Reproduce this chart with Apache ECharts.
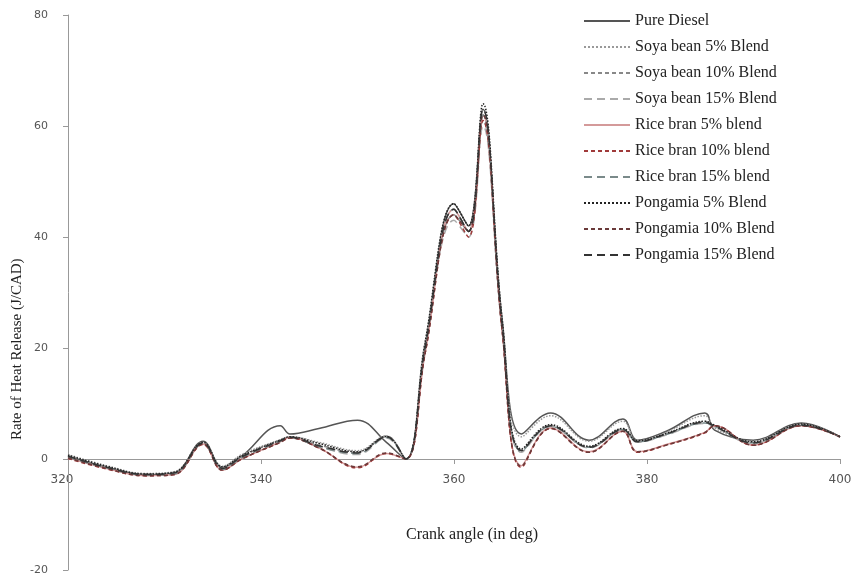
<!DOCTYPE html>
<html>
<head>
<meta charset="utf-8">
<script src="https://cdn.jsdelivr.net/npm/echarts@6/dist/echarts.min.js"></script>
<style>html,body{margin:0;background:#fff}#c{width:856px;height:579px}</style>
</head>
<body>
<div id="c"></div>
<script>
// crank angle sample points
var crank = [320,324,328,331,334,336,338,342,343,346,350,353,355,357,360,361.5,363,365,367,370,374,377.5,379,382,386,387,391,396,400];

var pureDiesel = [0.5,-1.5,-2.8,-2.5,3.2,-1.5,0.5,6,4.5,5.5,7,3,0,20,46,42,63,25,4.5,8.3,3.4,7.2,3.4,5,8.3,5.2,3.4,6.5,4];
var soya5  = [0.8,-1.2,-2.6,-2.3,3,-1.3,0.8,3.5,4,3,1.5,4.2,0,21,45,41,62,24,4,7.8,3.2,6.8,3.3,4.8,7.8,5.6,3.2,6.3,4];
var soya10 = [0.6,-1.4,-2.7,-2.4,2.9,-1.6,0.5,3.4,3.9,2.5,1.2,4,0,20,44,41,61,23,1.6,6,2.2,5.4,3.2,4.5,6.7,6,3,6.2,4];
var soya15 = [0.4,-1.6,-2.9,-2.6,2.8,-1.8,0.3,3.2,3.8,2.2,0.8,3.8,0,20,43,40,60,23,1.2,5.8,2,5.2,3,4.3,6.4,5.8,2.8,6,4];
var rice5  = [0.2,-1.7,-3,-2.8,2.7,-2,0,3.1,3.9,2,-1.5,1,0,19,45,41,62,23,-1.2,5.6,1.3,5,1.3,2.6,4.8,6,2.5,6,4];
var rice10 = [0.1,-1.8,-3,-2.8,2.6,-2,0,3,3.8,2,-1.6,1,0,19,44,40,61,23,-1.5,5.5,1.2,5,1.2,2.5,4.7,6,2.5,6,4];
var rice15 = [0.3,-1.6,-2.9,-2.7,2.8,-1.9,0.2,3.2,3.9,2.2,1,3.9,0,20,45,41,62,24,1.4,5.9,2.1,5.3,3.1,4.4,6.5,5.9,2.9,6.1,4];
var pong5  = [0.7,-1.3,-2.7,-2.4,3,-1.4,0.6,3.4,4,2.8,1.3,4.1,0,21,46,42,64,25,1.8,6.2,2.3,5.5,3.3,4.6,6.8,6.1,3.1,6.3,4];
var pong10 = [0.2,-1.7,-3,-2.8,2.7,-2,0,3,3.8,2,-1.4,1.1,0,19,44,41,62,23,-1.3,5.5,1.2,5,1.3,2.5,4.8,6,2.5,6,4];
var pong15 = [0.5,-1.5,-2.8,-2.5,2.9,-1.7,0.4,3.3,3.9,2.4,1.1,4,0,20,45,41,63,24,1.5,6,2.1,5.3,3.1,4.5,6.6,5.9,2.9,6.1,4];

var xTicks = [320,340,360,380,400];
var yTicks = [-20,0,20,40,60,80];

var names = ['Pure Diesel','Soya bean 5% Blend','Soya bean 10% Blend','Soya bean 15% Blend',
  'Rice bran 5% blend','Rice bran 10% blend','Rice bran 15% blend',
  'Pongamia 5% Blend','Pongamia 10% Blend','Pongamia 15% Blend'];
var values = [pureDiesel,soya5,soya10,soya15,rice5,rice10,rice15,pong5,pong10,pong15];
var colors = ['#555555','#999999','#888888','#aaaaaa','#d49a9a','#a03a3a','#7a8a8a','#222222','#6a3a3a','#333333'];
var types = ['solid','dotted',[4,3],[8,5],'solid',[4,3],[8,5],'dotted',[4,3],[8,5]];

var series = names.map(function (n, i) {
  return {
    name: n, type: 'line', smooth: 0.4, symbol: 'none',
    data: crank.map(function (x, j) { return [x, values[i][j]]; }),
    lineStyle: { color: colors[i], width: 1.5, type: types[i] },
    itemStyle: { color: colors[i] }
  };
});

var chart = echarts.init(document.getElementById('c'));
chart.setOption({
  animation: false,
  textStyle: { fontFamily: 'Liberation Serif' },
  grid: { left: 68, right: 16, top: 15, bottom: 9 },
  legend: {
    data: names, orient: 'vertical', left: 578, top: 8,
    itemWidth: 46, itemHeight: 10, itemGap: 10,
    itemStyle: { opacity: 0 },
    textStyle: { fontFamily: 'Liberation Serif', fontSize: 16, color: '#222' }
  },
  xAxis: {
    type: 'value', min: 320, max: 400, interval: 20,
    axisLine: { onZero: true, lineStyle: { color: '#999' } },
    axisTick: { show: true, length: 5, lineStyle: { color: '#999' } },
    axisLabel: { show: false },
    splitLine: { show: false }
  },
  yAxis: {
    type: 'value', min: -20, max: 80, interval: 20,
    axisLine: { show: true, lineStyle: { color: '#999' } },
    axisTick: { show: true, length: 5, lineStyle: { color: '#999' } },
    axisLabel: { color: '#555', fontSize: 11, margin: 20, fontFamily: 'DejaVu Sans',
      formatter: function (v) { return yTicks.indexOf(v) >= 0 ? String(v) : ''; } },
    splitLine: { show: false }
  },
  series: series
});

// x tick labels sit just under the zero line, placed through the axis scale
var graphics = xTicks.map(function (v) {
  var p = chart.convertToPixel({ gridIndex: 0 }, [v, 0]);
  return { type: 'text', x: p[0] - (v === 320 ? 6 : 0), y: p[1] + 15,
    style: { text: String(v), font: '12px "DejaVu Sans"', fill: '#555', align: 'center', verticalAlign: 'top' } };
});
graphics.push(
  { type: 'text', left: 406, top: 527,
    style: { text: 'Crank angle (in deg)', font: '16px "Liberation Serif"', fill: '#222' } },
  { type: 'text', x: 10, y: 440, rotation: Math.PI / 2,
    style: { text: 'Rate of Heat Release (J/CAD)', font: '15px "Liberation Serif"', fill: '#222' } }
);
chart.setOption({ graphic: graphics });
</script>
</body>
</html>
